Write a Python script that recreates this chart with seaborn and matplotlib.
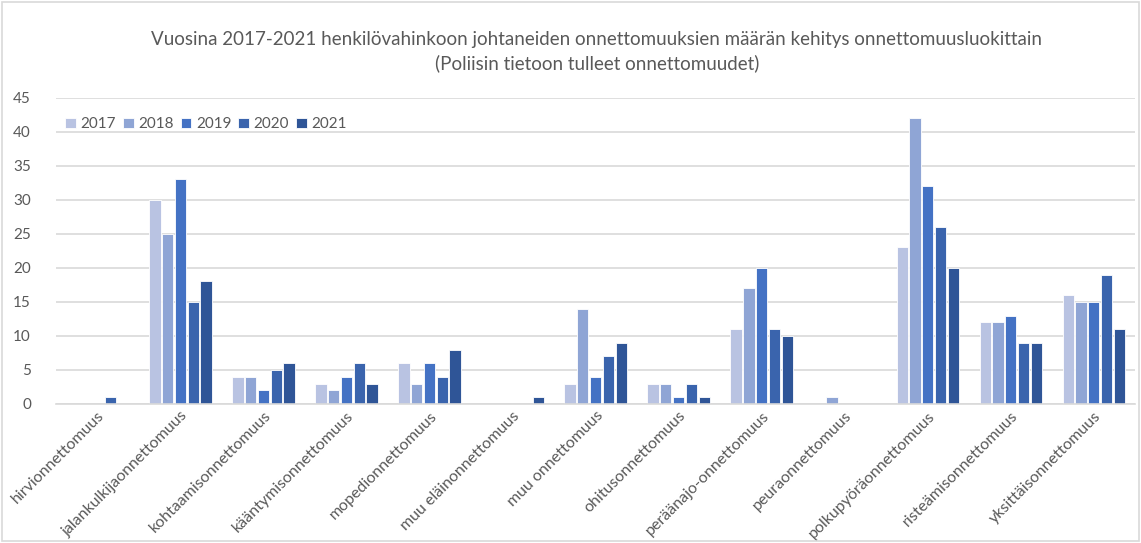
import matplotlib
matplotlib.use("Agg")
import matplotlib.pyplot as plt
import seaborn as sns
import pandas as pd
from matplotlib.patches import Rectangle

categories = ["hirvionnettomuus", "jalankulkijaonnettomuus", "kohtaamisonnettomuus",
              "kääntymisonnettomuus", "mopedionnettomuus", "muu eläinonnettomuus",
              "muu onnettomuus", "ohitusonnettomuus", "peräänajo-onnettomuus",
              "peuraonnettomuus", "polkupyöräonnettomuus", "risteämisonnettomuus",
              "yksittäisonnettomuus"]
years = ["2017", "2018", "2019", "2020", "2021"]
v2017 = [0, 30, 4, 3, 6, 0, 3, 3, 11, 0, 23, 12, 16]
v2018 = [0, 25, 4, 2, 3, 0, 14, 3, 17, 1, 42, 12, 15]
v2019 = [0, 33, 2, 4, 6, 0, 4, 1, 20, 0, 32, 13, 15]
v2020 = [1, 15, 5, 6, 4, 0, 7, 3, 11, 0, 26, 9, 19]
v2021 = [0, 18, 6, 3, 8, 1, 9, 1, 10, 0, 20, 9, 11]
title = ("Vuosina 2017-2021 henkilövahinkoon johtaneiden onnettomuuksien määrän kehitys onnettomuusluokittain\n"
         "(Poliisin tietoon tulleet onnettomuudet)")

colors = ["#B9C3E2", "#8FA5D5", "#4472C4", "#3A64AD", "#2F5597"]

rows = []
for y, vals in zip(years, [v2017, v2018, v2019, v2020, v2021]):
    for c, v in zip(categories, vals):
        rows.append({"cat": c, "year": y, "value": v})
df = pd.DataFrame(rows)

sns.set_theme(style="white")
plt.rcParams["font.family"] = ["Lato", "DejaVu Sans"]
txt = "#595959"
grid = "#D9D9D9"

fig = plt.figure(figsize=(11.41, 5.43), dpi=100)
ax = fig.add_axes([0.049, 0.256, 0.946, 0.564])
sns.barplot(data=df, x="cat", y="value", hue="year", order=categories,
            hue_order=years, palette=colors, width=0.77, gap=0.12,
            edgecolor="white", linewidth=0.6, ax=ax, saturation=1)

ax.set_ylim(0, 45)
ax.set_yticks(range(0, 46, 5))
ax.set_xlim(-0.5, len(categories) - 0.5)
ax.yaxis.grid(True, color=grid, linewidth=1.2)
ax.set_axisbelow(True)
for s in ["top", "right", "left"]:
    ax.spines[s].set_visible(False)
ax.spines["bottom"].set_color(grid)
ax.spines["bottom"].set_linewidth(1.2)
ax.set_xlabel("")
ax.set_ylabel("")
ax.tick_params(axis="both", length=0, colors=txt, labelsize=11)
ax.tick_params(axis="x", labelsize=11.5)
ax.tick_params(axis="y", pad=18)
plt.setp(ax.get_xticklabels(), rotation=45, ha="right", rotation_mode="anchor", color=txt)
for lbl in ax.get_yticklabels():
    lbl.set_color(txt)

leg = ax.legend(loc="upper left", bbox_to_anchor=(0.052, 0.795), bbox_transform=fig.transFigure,
                ncol=5, frameon=False, fontsize=11, handlelength=0.7, handleheight=0.7,
                handletextpad=0.3, columnspacing=0.45, labelcolor=txt, borderaxespad=0)

fig.text(0.523, 0.905, title, ha="center", va="center", fontsize=13.5, color=txt,
         linespacing=1.45)

fig.patches.append(Rectangle((0.002, 0.004), 0.996, 0.993, transform=fig.transFigure,
                             fill=False, edgecolor=grid, linewidth=1.2))

fig.savefig("out.png", dpi=100)
